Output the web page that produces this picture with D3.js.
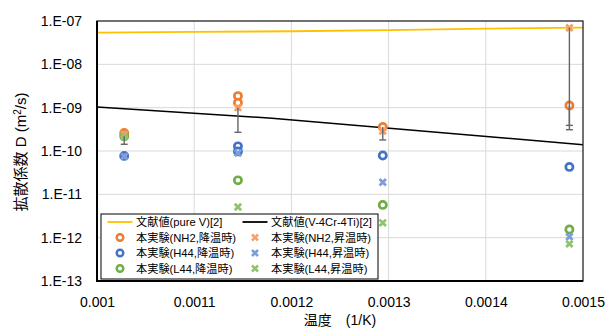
<!DOCTYPE html>
<html>
<head>
<meta charset="utf-8">
<script src="https://cdn.jsdelivr.net/npm/d3@7"></script>
<style>
  body { margin: 0; background: #fff; }
  text { font-family: "Liberation Sans", "Noto Sans CJK JP", sans-serif; fill: #000; }
</style>
</head>
<body>
<div id="chart"></div>
<script>
// Data (x = 1/T, y = D in m2/s)
var xTicks = [0.001, 0.0011, 0.0012, 0.0013, 0.0014, 0.0015]
var yTicks = [1e-13, 1e-12, 1e-11, 1e-10, 1e-9, 1e-8, 1e-7]

var pureV = [[0.001, 5.4e-8], [0.0011, 5.6e-8], [0.0012, 5.8e-8], [0.0013, 6.15e-8], [0.0014, 6.7e-8], [0.0015, 7.0e-8]]
var v4cr4ti = [[0.001, 1.03e-9], [0.00118, 5.7e-10], [0.0015, 1.4e-10]]

var nh2Cool = [[0.001028, 2.6e-10], [0.001145, 1.85e-9], [0.001145, 1.3e-9], [0.001294, 3.6e-10], [0.001486, 1.12e-9]]
var h44Cool = [[0.001028, 7.7e-11], [0.001145, 1.28e-10], [0.001145, 9.8e-11], [0.001294, 7.9e-11], [0.001486, 4.3e-11]]
var l44Cool = [[0.001028, 2.2e-10], [0.001145, 2.1e-11], [0.001294, 5.7e-12], [0.001486, 1.55e-12]]
var nh2Heat = [[0.001028, 2.4e-10], [0.001145, 1.0e-9], [0.001294, 2.9e-10], [0.001486, 7.0e-8]]
var h44Heat = [[0.001028, 7.5e-11], [0.001145, 9.0e-11], [0.001294, 1.9e-11], [0.001486, 1.05e-12]]
var l44Heat = [[0.001028, 2.1e-10], [0.001145, 5.1e-12], [0.001294, 2.2e-12], [0.001486, 7.2e-13]]

// error bars: [x, upper, lower]
var errBars = [[0.001028, 2.2e-10, 1.43e-10], [0.001145, 1.0e-9, 2.7e-10], [0.001294, 3.6e-10, 1.8e-10],
               [0.001486, 7.0e-8, 3.9e-10], [0.001486, 1.12e-9, 3.1e-10]]

var width = 607
var height = 329
var plotL = 97, plotR = 583, plotT = 21, plotB = 281

var svg = d3.select('#chart').append('svg')
  .attr('width', width)
  .attr('height', height)

var x = d3.scaleLinear().domain([0.001, 0.0015]).range([plotL, plotR])
var y = d3.scaleLog().domain([1e-13, 1e-7]).range([plotB, plotT])

// grid
svg.append('g').selectAll('line')
  .data(yTicks.slice(1, -1)).enter().append('line')
  .attr('x1', plotL).attr('x2', plotR)
  .attr('y1', function(d) { return y(d) }).attr('y2', function(d) { return y(d) })
  .attr('stroke', '#d9d9d9').attr('stroke-width', 1)
svg.append('g').selectAll('line')
  .data(xTicks.slice(1, -1)).enter().append('line')
  .attr('y1', plotT).attr('y2', plotB)
  .attr('x1', function(d) { return x(d) }).attr('x2', function(d) { return x(d) })
  .attr('stroke', '#d9d9d9').attr('stroke-width', 1)

// axes
var yAxis = svg.append('g')
  .attr('transform', 'translate(' + plotL + ',0)')
  .call(d3.axisLeft(y).tickValues(yTicks).tickSize(0).tickPadding(15)
    .tickFormat(function(d) {
      var e = Math.round(Math.log10(d))
      return '1.E' + (e < 0 ? '-' : '+') + String(Math.abs(e)).padStart(2, '0')
    }))
yAxis.select('.domain').remove()
yAxis.selectAll('text').attr('font-size', 14).attr('font-family', '"Liberation Sans", sans-serif')

var xAxis = svg.append('g')
  .attr('transform', 'translate(0,' + plotB + ')')
  .call(d3.axisBottom(x).tickValues(xTicks).tickSize(0).tickPadding(16)
    .tickFormat(function(d) { return String(+d.toFixed(4)) }))
xAxis.select('.domain').remove()
xAxis.selectAll('text').attr('font-size', 14).attr('font-family', '"Liberation Sans", sans-serif')

// lines
var line = d3.line()
  .x(function(d) { return x(d[0]) })
  .y(function(d) { return y(d[1]) })

var plot = svg.append('g')
plot.append('path').datum(pureV).attr('d', line)
  .attr('fill', 'none').attr('stroke', '#ffc000').attr('stroke-width', 1.8)
plot.append('path').datum(v4cr4ti).attr('d', line)
  .attr('fill', 'none').attr('stroke', '#000').attr('stroke-width', 1.5)

var orange = '#ed7d31', blue = '#4472c4', green = '#70ad47'
var orangeX = '#f4a06a', blueX = '#7e9ddb', greenX = '#8fc46d'

function crossPath(s) {
  return 'M' + (-s) + ',' + (-s) + 'L' + s + ',' + s + 'M' + (-s) + ',' + s + 'L' + s + ',' + (-s)
}

function drawCircles(g, data, color) {
  g.selectAll(null).data(data).enter().append('circle')
    .attr('cx', function(d) { return x(d[0]) })
    .attr('cy', function(d) { return y(d[1]) })
    .attr('r', 3.6)
    .attr('fill', '#fff')
    .attr('stroke', color).attr('stroke-width', 2.7)
}

function drawCrosses(g, data, color) {
  g.selectAll(null).data(data).enter().append('path')
    .attr('transform', function(d) { return 'translate(' + x(d[0]) + ',' + y(d[1]) + ')' })
    .attr('d', crossPath(3.2))
    .attr('fill', 'none')
    .attr('stroke', color).attr('stroke-width', 2.8)
}

drawCircles(plot, nh2Cool, orange)
drawCircles(plot, h44Cool, blue)
drawCircles(plot, l44Cool, green)
drawCrosses(plot, nh2Heat, orangeX)
drawCrosses(plot, h44Heat, blueX)
drawCrosses(plot, l44Heat, greenX)

// error bars
var eb = plot.selectAll(null).data(errBars).enter().append('g')
eb.append('line')
  .attr('x1', function(d) { return x(d[0]) }).attr('x2', function(d) { return x(d[0]) })
  .attr('y1', function(d) { return y(d[1]) }).attr('y2', function(d) { return y(d[2]) })
  .attr('stroke', '#666').attr('stroke-width', 1.4)
eb.append('line')
  .attr('x1', function(d) { return x(d[0]) - 3.5 }).attr('x2', function(d) { return x(d[0]) + 3.5 })
  .attr('y1', function(d) { return y(d[2]) }).attr('y2', function(d) { return y(d[2]) })
  .attr('stroke', '#666').attr('stroke-width', 1.4)

// frame
svg.append('rect')
  .attr('x', plotL).attr('y', plotT)
  .attr('width', plotR - plotL).attr('height', plotB - plotT)
  .attr('fill', 'none').attr('stroke', '#262626').attr('stroke-width', 1.3)
svg.append('path')
  .attr('d', 'M' + plotL + ',' + plotT + 'V' + plotB + 'H' + plotR)
  .attr('fill', 'none').attr('stroke', '#000').attr('stroke-width', 2)

// axis titles
svg.append('text')
  .attr('transform', 'translate(26,152) rotate(-90)')
  .attr('text-anchor', 'middle')
  .attr('font-size', 15)
  .html('拡散係数 D (m<tspan baseline-shift="super" font-size="10">2</tspan>/s)')

svg.append('text')
  .attr('x', 340).attr('y', 325)
  .attr('text-anchor', 'middle')
  .attr('font-size', 14)
  .text('温度　(1/K)')

// legend
var legend = svg.append('g')
legend.append('rect')
  .attr('x', 101).attr('y', 214).attr('width', 277).attr('height', 65)
  .attr('fill', '#fff').attr('stroke', '#000').attr('stroke-width', 1)

var legendItems = [
  { label: '文献値(pure V)[2]', type: 'line', color: '#ffc000', col: 0, row: 0 },
  { label: '文献値(V-4Cr-4Ti)[2]', type: 'line', color: '#000', col: 1, row: 0 },
  { label: '本実験(NH2,降温時)', type: 'circle', color: orange, col: 0, row: 1 },
  { label: '本実験(NH2,昇温時)', type: 'cross', color: orangeX, col: 1, row: 1 },
  { label: '本実験(H44,降温時)', type: 'circle', color: blue, col: 0, row: 2 },
  { label: '本実験(H44,昇温時)', type: 'cross', color: blueX, col: 1, row: 2 },
  { label: '本実験(L44,降温時)', type: 'circle', color: green, col: 0, row: 3 },
  { label: '本実験(L44,昇温時)', type: 'cross', color: greenX, col: 1, row: 3 }
]

var li = legend.selectAll(null).data(legendItems).enter().append('g')
  .attr('transform', function(d) { return 'translate(' + (d.col ? 255 : 120) + ',' + (222 + d.row * 15.5) + ')' })

li.each(function(d) {
  var g = d3.select(this)
  if (d.type === 'line') {
    g.append('line').attr('x1', -12.5).attr('x2', 12.5)
      .attr('stroke', d.color).attr('stroke-width', 1.8)
  } else if (d.type === 'circle') {
    g.append('circle').attr('r', 3.3).attr('fill', '#fff')
      .attr('stroke', d.color).attr('stroke-width', 2.4)
  } else {
    g.append('path').attr('d', crossPath(3)).attr('fill', 'none')
      .attr('stroke', d.color).attr('stroke-width', 2.6)
  }
  g.append('text').attr('x', 16).attr('y', 4)
    .attr('font-size', 11.2)
    .text(d.label)
})
</script>
</body>
</html>
